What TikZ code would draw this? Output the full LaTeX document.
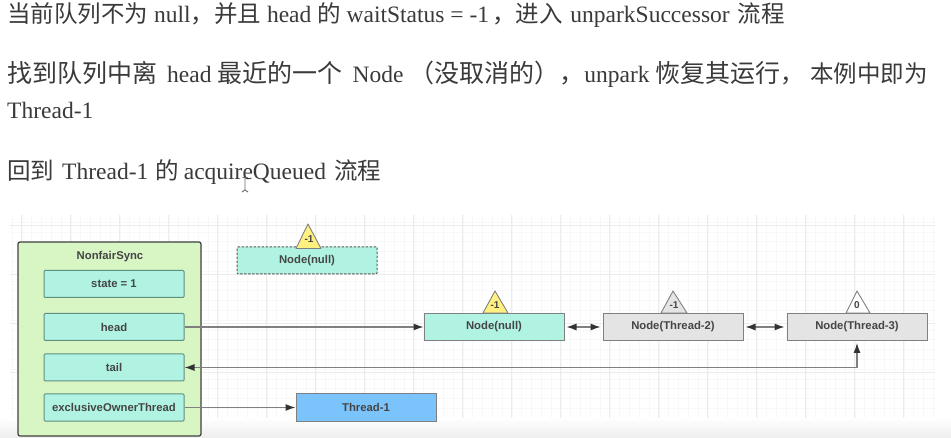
\documentclass[tikz,border=0pt]{standalone}
\usepackage{fontspec}
\setmainfont{Liberation Serif}
\setsansfont{Liberation Sans}
\newfontfamily\cjkface{Noto Sans CJK SC}
\usetikzlibrary{arrows.meta}
\newcommand{\zh}[1]{{\cjkface #1}}
\newcommand{\zhwide}[1]{{\cjkface\fontsize{25}{25}\selectfont #1}}
\definecolor{inkbody}{HTML}{3A3A3A}
\definecolor{inkbox}{HTML}{454545}
\definecolor{syncfill}{HTML}{D8F5C4}
\definecolor{fieldfill}{HTML}{B0F3E2}
\definecolor{threadfill}{HTML}{7BC3FB}
\definecolor{queuefill}{HTML}{E4E4E4}
\definecolor{flagfill}{HTML}{FFF07F}
\definecolor{gridline}{HTML}{ECECEC}
\definecolor{gridminor}{HTML}{F8F8F8}
\definecolor{fieldedge}{HTML}{5F8F80}
\tikzset{
  x=1pt, y=-1pt,
  bodyline/.style={anchor=base west, inner sep=0pt, text=inkbody, font=\rmfamily\fontsize{23.5}{23.5}\selectfont},
  boxbase/.style={minimum width=140pt, minimum height=27pt, inner sep=0pt, line width=1pt,
    font=\sffamily\bfseries\fontsize{11.3}{12}\selectfont, text=inkbox},
  fieldbox/.style={boxbase, draw=fieldedge, fill=fieldfill, rounded corners=1pt},
  ghostbox/.style={fieldbox, draw=black!65, dashed, dash pattern=on 2.5pt off 1.5pt},
  threadbox/.style={boxbase, draw=black!50, fill=threadfill},
  queuebox/.style={boxbase, draw=black!50, fill=queuefill},
  flagtri/.style={draw=black!50, line width=0.9pt, line join=round},
  flagtext/.style={inner sep=0pt, text=inkbox, font=\sffamily\bfseries\fontsize{10}{10}\selectfont},
  link/.style={draw=black!50, line width=1.1pt, -{Latex[length=10pt,width=7pt,black!80]}},
  bothways/.style={link, {Latex[length=10pt,width=7pt,black!80]}-{Latex[length=10pt,width=7pt,black!80]}, shorten <=2pt, shorten >=2pt},
}
\begin{document}
\begin{tikzpicture}
\useasboundingbox (0,0) rectangle (951,438);
\fill[white] (0,0) rectangle (951,438);

% background grid of the canvas
\foreach \g in {0,...,94} {
  \draw[gridminor, line width=0.5pt] ({12+9.8*\g},215) -- ({12+9.8*\g},430);
}
\foreach \g in {0,...,21} {
  \draw[gridminor, line width=0.5pt] (10,{222+9.8*\g}) -- (935,{222+9.8*\g});
}
\foreach \g in {0,...,18} {
  \draw[gridline, line width=0.7pt] ({21+49*\g},215) -- ({21+49*\g},430);
}
\foreach \g in {0,...,4} {
  \draw[gridline, line width=0.7pt] (10,{225+49*\g}) -- (935,{225+49*\g});
}
\shade[top color=white, bottom color=black!7] (0,418) rectangle (951,438);

% explanatory text
\node[bodyline] (t1) at (7,23) {\zh{当前队列不为} null\zh{，并且} head \zh{的} waitStatus = -1\hspace{3pt}\zh{，进入}\hspace{2pt} unparkSuccessor\hspace{2pt} \zh{流程}};
\node[bodyline] (t2) at (7,83) {\zhwide{找到队列中离}\hspace{10pt}head\hspace{6pt}\zhwide{最近的一个}\hspace{10pt}Node\hspace{6pt}\zhwide{（没取消的），}unpark\hspace{6pt}\zhwide{恢复其运行}\zh{，}\hspace{6pt}\zh{本例中即为}};
\node[bodyline] (t3) at (7,118.5) {Thread-1};
\node[bodyline] (t4) at (7,180) {\zh{回到}\hspace{8pt}Thread-1\hspace{7pt}\zh{的}\hspace{5pt}acquireQueued\hspace{8pt}\zh{流程}};

% text cursor
\draw[black!60, line width=0.9pt] (242.5,177.5) -- (247.5,177.5) (245,177.5) -- (245,190) (242,192) -- (245,190) -- (248,192);

% sync object and its fields
\node[draw=black!75, fill=syncfill, line width=1.2pt, rounded corners=2pt, minimum width=183pt, minimum height=194pt, inner sep=0pt] (sync) at (109.5,339) {};
\node[inner sep=0pt, text=inkbox, font=\sffamily\bfseries\fontsize{11.3}{12}\selectfont] (syncname) at (110,257) {NonfairSync};
\node[fieldbox] (state) at (114,284) {state = 1};
\node[fieldbox] (head) at (114,327) {head};
\node[fieldbox] (tail) at (114,367.5) {tail};
\node[fieldbox] (owner) at (114,407.5) {exclusiveOwnerThread};

% detached old head
\node[ghostbox] (oldhead) at (307,260.5) {Node(null)};
\path[flagtri, fill=flagfill] (296,248.5) -- (308,224) -- (321,248.5) -- cycle;
\node[flagtext] (oldflag) at (309,239.5) {-1};

% owner thread
\node[threadbox] (thread) at (366,407.5) {Thread-1};

% waiting queue
\node[fieldbox, rounded corners=0pt, draw=black!50] (n1) at (494,327) {Node(null)};
\node[queuebox] (n2) at (673,327) {Node(Thread-2)};
\node[queuebox] (n3) at (857,327) {Node(Thread-3)};
\path[flagtri, fill=flagfill] (483,313) -- (495,291) -- (508,313) -- cycle;
\node[flagtext] (f1) at (495,305) {-1};
\path[flagtri, fill=queuefill] (661,313) -- (673,291) -- (687,313) -- cycle;
\node[flagtext] (f2) at (674,305) {-1};
\path[flagtri, fill=white] (846,313) -- (857,291) -- (870,313) -- cycle;
\node[flagtext] (f3) at (857,305) {0};

% connectors
\draw[link] (head.east) -- (n1.west);
\draw[link] (owner.east) -- (thread.west);
\draw[bothways] (n1.east) -- (n2.west);
\draw[bothways] (n2.east) -- (n3.west);
\draw[bothways, shorten <=0pt] (tail.east) -| (n3.south);
\end{tikzpicture}
\end{document}
